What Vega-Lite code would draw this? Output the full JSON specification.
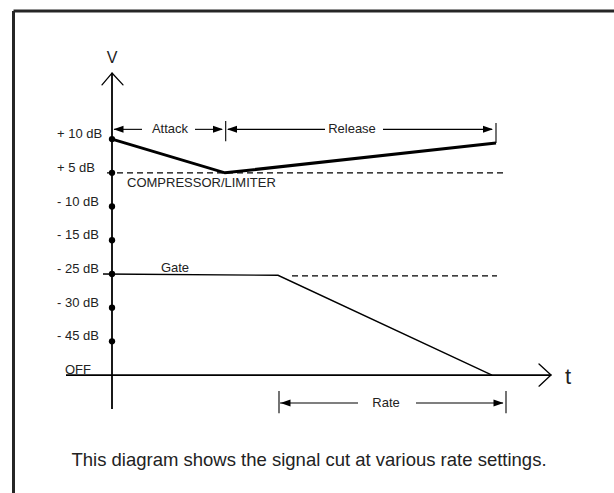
{
  "$schema": "https://vega.github.io/schema/vega-lite/v6.json",
  "width": 614,
  "height": 493,
  "autosize": {"type": "fit", "contains": "padding"},
  "padding": 0,
  "background": "white",
  "config": {"view": {"stroke": null}, "font": "Liberation Sans"},
  "encoding": {
    "x": {"field": "t", "type": "quantitative", "scale": {"domain": [-11.2, 50.2], "nice": false, "zero": false}, "axis": null},
    "y": {"field": "v", "type": "quantitative", "scale": {"domain": [-3.5, 11.128], "nice": false, "zero": false}, "axis": null}
  },
  "layer": [
    {
      "data": {"values": [
        {"t": -9.85, "v": -3.5, "t2": -9.85, "v2": 10.8},
        {"t": -9.85, "v": 10.8, "t2": 50.2, "v2": 10.8}
      ]},
      "mark": {"type": "rule", "strokeWidth": 3, "color": "#262626", "clip": true},
      "encoding": {"x2": {"field": "t2"}, "y2": {"field": "v2"}}
    },
    {
      "data": {"values": [
        {"t": -0.5, "v": 6, "t2": 39.4, "v2": 6},
        {"t": 18.0, "v": 2.94, "t2": 38.5, "v2": 2.94}
      ]},
      "mark": {"type": "rule", "strokeWidth": 1.2, "strokeDash": [6, 4], "color": "black"},
      "encoding": {"x2": {"field": "t2"}, "y2": {"field": "v2"}}
    },
    {
      "data": {"values": [
        {"t": 0.2, "v": 7.29, "t2": 3.0, "v2": 7.29},
        {"t": 8.3, "v": 7.29, "t2": 11.0, "v2": 7.29},
        {"t": 11.37, "v": 7.54, "t2": 11.37, "v2": 6.94},
        {"t": 11.6, "v": 7.29, "t2": 21.3, "v2": 7.29},
        {"t": 27.1, "v": 7.29, "t2": 38.0, "v2": 7.29},
        {"t": 38.4, "v": 7.48, "t2": 38.4, "v2": 6.886},
        {"t": 16.7, "v": -0.47, "t2": 16.7, "v2": -1.13},
        {"t": 39.4, "v": -0.47, "t2": 39.4, "v2": -1.13},
        {"t": 16.8, "v": -0.83, "t2": 24.6, "v2": -0.83},
        {"t": 30.4, "v": -0.83, "t2": 39.1, "v2": -0.83}
      ]},
      "mark": {"type": "rule", "strokeWidth": 1.1, "color": "black"},
      "encoding": {"x2": {"field": "t2"}, "y2": {"field": "v2"}}
    },
    {
      "data": {"values": [
        {"t": 0, "v": -1.01, "t2": 0, "v2": 8.96},
        {"t": -4.6, "v": 0, "t2": 43.9, "v2": 0}
      ]},
      "mark": {"type": "rule", "strokeWidth": 1.8, "color": "black"},
      "encoding": {"x2": {"field": "t2"}, "y2": {"field": "v2"}}
    },
    {
      "data": {"values": [
        {"t": -1.0, "v": 8.61, "t2": 0, "v2": 8.96},
        {"t": 0, "v": 8.96, "t2": 1.1, "v2": 8.61},
        {"t": 42.7, "v": 0.33, "t2": 43.9, "v2": 0},
        {"t": 43.9, "v": 0, "t2": 42.7, "v2": -0.33}
      ]},
      "mark": {"type": "rule", "strokeWidth": 1.3, "color": "black", "strokeCap": "round"},
      "encoding": {"x2": {"field": "t2"}, "y2": {"field": "v2"}}
    },
    {
      "data": {"values": [
        {"t": -0.9, "v": 3},
        {"t": 16.6, "v": 2.96},
        {"t": 38.0, "v": 0}
      ]},
      "mark": {"type": "line", "strokeWidth": 1.4, "color": "black"}
    },
    {
      "data": {"values": [
        {"t": 0, "v": 7},
        {"t": 11.3, "v": 6},
        {"t": 38.4, "v": 6.886}
      ]},
      "mark": {"type": "line", "strokeWidth": 3, "color": "black"}
    },
    {
      "data": {"values": [
        {"t": 0, "v": 1}, {"t": 0, "v": 2}, {"t": 0, "v": 3}, {"t": 0, "v": 4},
        {"t": 0, "v": 5}, {"t": 0, "v": 6}, {"t": 0, "v": 7}
      ]},
      "mark": {"type": "point", "filled": true, "size": 40, "color": "black", "opacity": 1}
    },
    {
      "data": {"values": [
        {"t": 0.15, "v": 7.29}, {"t": 11.5, "v": 7.29}, {"t": 16.85, "v": -0.83}
      ]},
      "mark": {"type": "point", "filled": true, "size": 400, "color": "black", "opacity": 1, "shape": "M0,0L1,-0.35L1,0.35Z"}
    },
    {
      "data": {"values": [
        {"t": 11.1, "v": 7.29}, {"t": 38.1, "v": 7.29}, {"t": 39.15, "v": -0.83}
      ]},
      "mark": {"type": "point", "filled": true, "size": 400, "color": "black", "opacity": 1, "shape": "M0,0L-1,-0.35L-1,0.35Z"}
    },
    {
      "data": {"values": [
        {"t": -5.5, "v": 7, "label": "+ 10 dB"},
        {"t": -5.5, "v": 6, "label": "+ 5 dB"},
        {"t": -5.5, "v": 5, "label": "- 10 dB"},
        {"t": -5.5, "v": 4, "label": "- 15 dB"},
        {"t": -5.5, "v": 3, "label": "- 25 dB"},
        {"t": -5.5, "v": 2, "label": "- 30 dB"},
        {"t": -5.5, "v": 1, "label": "- 45 dB"},
        {"t": -4.7, "v": 0, "label": "OFF"}
      ]},
      "mark": {"type": "text", "align": "left", "baseline": "middle", "fontSize": 13, "dy": -5, "color": "#222222"},
      "encoding": {"text": {"field": "label"}}
    },
    {
      "data": {"values": [
        {"t": 5.8, "v": 7.29, "label": "Attack"},
        {"t": 24.0, "v": 7.29, "label": "Release"},
        {"t": 6.3, "v": 3.18, "label": "Gate"},
        {"t": 27.4, "v": -0.83, "label": "Rate"}
      ]},
      "mark": {"type": "text", "align": "center", "baseline": "middle", "fontSize": 13, "color": "#222222"},
      "encoding": {"text": {"field": "label"}}
    },
    {
      "data": {"values": [
        {"t": 1.5, "v": 5.7, "label": "COMPRESSOR/LIMITER"}
      ]},
      "mark": {"type": "text", "align": "left", "baseline": "middle", "fontSize": 13, "color": "#222222"},
      "encoding": {"text": {"field": "label"}}
    },
    {
      "data": {"values": [
        {"t": 0, "v": 9.41, "label": "V"}
      ]},
      "mark": {"type": "text", "align": "center", "baseline": "middle", "fontSize": 16, "color": "#222222"},
      "encoding": {"text": {"field": "label"}}
    },
    {
      "data": {"values": [
        {"t": 45.6, "v": -0.06, "label": "t"}
      ]},
      "mark": {"type": "text", "align": "center", "baseline": "middle", "fontSize": 22, "color": "#222222"},
      "encoding": {"text": {"field": "label"}}
    },
    {
      "data": {"values": [
        {"t": 19.7, "v": -2.52, "label": "This diagram shows the signal cut at various rate settings."}
      ]},
      "mark": {"type": "text", "align": "center", "baseline": "middle", "fontSize": 18.5, "color": "#222222"},
      "encoding": {"text": {"field": "label"}}
    }
  ]
}
